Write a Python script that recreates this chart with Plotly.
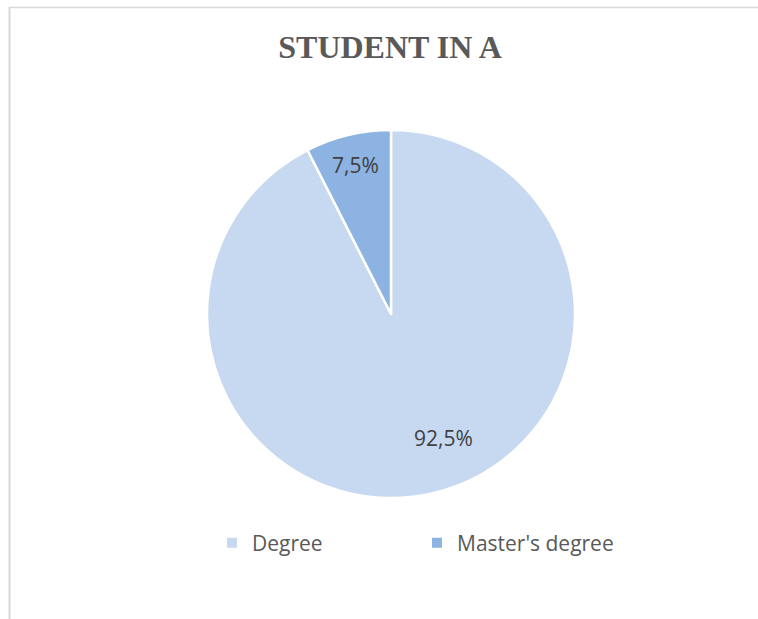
import math
import plotly.graph_objects as go

# Data
categories = ["Degree", "Master's degree"]
shares = [92.5, 7.5]
label_texts = ["92,5%", "7,5%"]

# Styling
slice_colors = ["#C6D9F0", "#8DB3E2"]
label_radius = [0.73, 0.83]      # fraction of radius where each label sits
label_nudge_deg = [-9.5, 0.0]    # small angular shift of the label from slice middle

W, H = 758, 619
cx, cy, r = 391, 314, 184        # pie centre / radius in pixels (from top-left)

dom_x = [(cx - r) / W, (cx + r) / W]
dom_y = [(H - cy - r) / H, (H - cy + r) / H]

fig = go.Figure(
    go.Pie(
        labels=categories,
        values=shares,
        sort=False,
        direction="clockwise",
        rotation=0,
        textinfo="none",
        hoverinfo="label+percent",
        marker=dict(colors=slice_colors, line=dict(color="white", width=2.5)),
        domain=dict(x=dom_x, y=dom_y),
    )
)

# Data labels placed from each slice's angular middle
total = sum(shares)
start = 0.0
annotations = []
for val, txt, frac, nudge in zip(shares, label_texts, label_radius, label_nudge_deg):
    mid = (start + val / 2) / total * 360.0 + nudge
    start += val
    theta = math.radians(mid)
    px = cx + frac * r * math.sin(theta)
    py = cy - frac * r * math.cos(theta)
    annotations.append(
        dict(
            x=px / W, y=1 - py / H, xref="paper", yref="paper",
            text=txt, showarrow=False,
            font=dict(family="Open Sans", size=21, color="#404040"),
            xanchor="center", yanchor="middle",
        )
    )

fig.update_layout(
    width=W, height=H,
    margin=dict(l=0, r=0, t=0, b=0),
    paper_bgcolor="white",
    plot_bgcolor="white",
    title=dict(
        text="<b>STUDENT IN A</b>",
        x=390 / W, xanchor="center",
        y=1 - 47 / H, yanchor="middle",
        font=dict(family="Liberation Serif", size=32, color="#595959"),
    ),
    showlegend=True,
    legend=dict(
        orientation="h",
        x=212 / W, xanchor="left",
        y=1 - 543 / H, yanchor="middle",
        entrywidth=160, entrywidthmode="pixels",
        font=dict(family="Open Sans", size=21, color="#595959"),
        itemsizing="constant",
        bgcolor="rgba(0,0,0,0)",
    ),
    annotations=annotations,
    shapes=[
        dict(type="line", xref="paper", yref="paper",
             x0=9.5 / W, x1=1.0, y0=1 - 7.5 / H, y1=1 - 7.5 / H,
             line=dict(color="#D9D9D9", width=1.5)),
        dict(type="line", xref="paper", yref="paper",
             x0=9.5 / W, x1=9.5 / W, y0=1 - 7 / H, y1=0.0,
             line=dict(color="#D9D9D9", width=2)),
    ],
)

fig.write_html("out.html")
